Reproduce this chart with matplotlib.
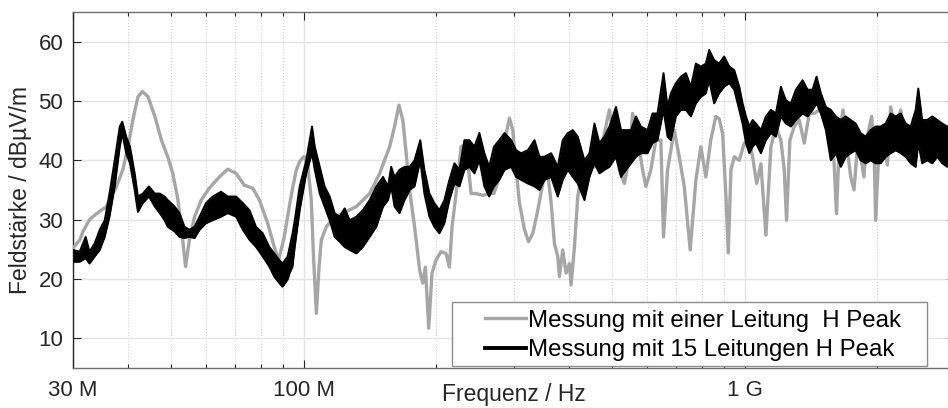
import matplotlib
matplotlib.use("Agg")
import matplotlib.pyplot as plt
from matplotlib.ticker import FixedLocator, NullFormatter
from matplotlib.legend_handler import HandlerLine2D
from matplotlib.lines import Line2D
from matplotlib.patches import Rectangle

plt.rcParams['font.family'] = ['Liberation Sans', 'DejaVu Sans']

# ---- data (frequency in MHz, field strength in dBµV/m) ----
gray_f = [30.0, 31.1, 31.6, 32.7, 33.9, 35.7, 37.6, 38.9, 40.0, 41.0, 42.1, 43.1, 44.4, 46.0,
          47.6, 49.2, 50.5, 51.9, 52.8, 54.0, 55.1, 56.6, 58.6, 61.1, 64.4, 67.3, 70.3, 73.4,
          76.7, 79.4, 82.9, 85.8, 87.8, 90.4, 92.8, 94.4, 96.3, 98.0, 100.0, 100.6, 102.3,
          104.1, 105.4, 106.9, 108.4, 109.7, 112.6, 116.6, 122.8, 131.7, 141.2, 148.8, 156.7,
          160.8, 164.5, 167.9, 170.9, 173.9, 178.5, 183.3, 186.3, 188.9, 192.2, 195.5, 199.7,
          204.9, 210.4, 214.1, 217.1, 221.7, 227.6, 231.6, 235.6, 239.8, 246.1, 254.9, 263.5,
          270.2, 280.0, 287.0, 293.0, 298.2, 303.4, 308.7, 316.9, 323.6, 331.0, 339.7, 348.7,
          357.9, 364.2, 370.5, 377.0, 380.3, 386.9, 393.8, 400.7, 404.2, 411.3, 418.5, 429.5,
          444.9, 456.7, 468.6, 481.0, 493.7, 506.6, 520.0, 533.8, 548.0, 557.3, 571.9, 587.0,
          597.3, 613.0, 629.1, 645.9, 654.9, 668.8, 692.6, 710.9, 729.8, 752.8, 775.5, 795.9,
          816.9, 838.2, 860.4, 876.0, 891.6, 907.3, 918.4, 931.2, 947.5, 972.6, 998.4, 1025.0,
          1042.8, 1064.9, 1089.1, 1117.7, 1147.2, 1177.5, 1208.7, 1229.9, 1245.0, 1266.8,
          1296.0, 1330.1, 1365.6, 1401.6, 1438.3, 1476.4, 1528.4, 1568.6, 1596.0, 1615.9,
          1644.2, 1672.2, 1710.5, 1740.6, 1770.6, 1801.7, 1833.3, 1864.4, 1897.8, 1941.1,
          1965.3, 1982.5, 2017.4, 2070.7, 2107.1, 2144.3, 2201.4, 2259.3, 2319.0, 2380.3,
          2464.3, 2572.8, 2710.7, 2881.9, 2990.0]
gray_db = [25.2, 26.6, 28.0, 30.0, 31.0, 32.2, 35.5, 38.4, 42.3, 46.8, 50.7, 51.6, 50.7, 47.4,
           43.4, 40.6, 37.8, 33.3, 28.8, 22.1, 26.6, 30.5, 33.3, 35.3, 37.2, 38.5, 37.8, 35.8,
           35.3, 33.3, 29.4, 25.4, 23.2, 27.1, 32.2, 35.3, 38.4, 39.8, 40.6, 40.6, 38.9,
           33.3, 23.2, 14.2, 22.0, 26.6, 28.8, 30.2, 31.1, 32.2, 34.4, 37.8, 42.3,
           45.7, 49.3, 46.8, 41.1, 35.0, 28.8, 21.5, 19.3, 22.0, 11.7, 21.0, 23.2,
           24.6, 24.3, 22.0, 28.8, 34.4, 42.3, 42.6, 40.0, 34.4, 34.4, 34.1, 34.4,
           34.4, 38.0, 44.0, 47.1, 45.1, 38.4, 32.8, 28.3, 26.3, 27.7, 31.6, 36.1,
           37.8, 32.8, 26.0, 23.8, 20.4, 24.9, 21.0, 22.6, 19.0, 25.4, 33.9, 38.9,
           39.5, 38.9, 40.0, 44.6, 48.5, 43.4, 38.4, 36.1, 40.6, 47.9, 44.0, 38.4,
           35.6, 38.4, 43.4, 43.4, 27.1, 38.4, 45.1, 40.6, 35.6, 24.9, 36.7, 42.3,
           37.2, 43.4, 47.4, 47.0, 44.5, 33.9, 24.4, 38.4, 40.6, 40.0, 42.9, 43.4,
           40.6, 36.1, 39.4, 27.4, 42.3, 45.7, 43.4, 38.4, 29.9, 43.4,
           45.7, 46.8, 42.9, 47.9, 47.9, 48.5, 47.4, 46.8, 39.4, 31.0,
           45.1, 48.5, 41.7, 37.2, 35.0, 42.3, 40.6, 37.2, 44.0, 47.4,
           42.3, 29.9, 42.3, 43.4, 39.2, 49.0, 45.1, 48.5, 43.4, 41.7,
           44.0, 43.4, 42.3, 40.6, 41.5]

black_f = [30.0, 31.06, 32.05, 32.7, 33.6, 34.5, 35.4, 36.3, 37.3, 38.3, 38.8, 39.6, 40.4, 41.4,
           42.1, 43.2, 44.6, 46.0, 47.2, 48.4, 49.2, 51.0, 52.3, 53.7, 55.1, 56.6, 58.1, 60.1,
           62.2, 65.0, 67.3, 70.3, 72.8, 75.4, 78.0, 80.8, 83.6, 85.8, 88.1, 89.6, 92.0, 93.0,
           94.4, 95.5, 98.0, 101.4, 104.5, 106.0, 108.8, 111.6, 114.6, 117.6, 120.7, 123.9,
           127.2, 131.7, 136.3, 141.2, 146.2, 151.4, 155.4, 158.0, 160.8, 165.0, 169.4, 173.9,
           178.5, 183.9, 187.9, 192.9, 197.9, 203.2, 208.6, 214.1, 219.8, 225.6, 231.6, 237.7,
           244.0, 250.4, 257.0, 263.5, 270.2, 277.8, 285.5, 295.6, 303.4, 311.4, 322.4, 333.9,
           342.7, 351.7, 364.2, 377.0, 386.9, 397.3, 407.8, 418.5, 433.4, 444.9, 456.7, 468.6,
           481.0, 493.7, 511.0, 524.6, 538.4, 552.5, 567.1, 581.9, 602.4, 618.3, 634.7, 654.9,
           668.8, 680.5, 698.6, 717.2, 736.1, 755.5, 775.5, 795.9, 816.9, 831.2, 853.0, 875.5,
           898.7, 923.2, 947.5, 972.6, 989.7, 1007.2, 1025.0, 1042.8, 1061.1, 1089.1, 1117.7,
           1147.2, 1177.5, 1208.7, 1240.7, 1273.4, 1307.2, 1353.6, 1389.5, 1426.2, 1456.1,
           1489.2, 1528.4, 1568.6, 1610.3, 1652.4, 1695.8, 1740.6, 1786.1, 1833.3, 1881.6,
           1931.0, 1982.5, 2035.0, 2088.7, 2144.3, 2201.4, 2259.3, 2319.0, 2380.3, 2443.0,
           2476.9, 2527.5, 2595.6, 2664.6, 2734.5, 2807.4, 2881.9, 2990.0]
black_hi = [24.9, 24.6, 27.1, 24.6, 26.0, 28.3, 29.9, 34.4, 40.0, 45.7, 46.5, 44.0, 42.3, 37.8,
            33.9, 34.4, 35.6, 34.4, 34.4, 33.9, 33.3, 32.2, 31.1, 28.8, 28.3, 28.8, 30.5, 32.8,
            33.9, 34.7, 33.9, 33.9, 32.8, 31.6, 28.8, 27.7, 25.4, 24.3, 23.2, 22.6, 23.8, 25.4,
            27.7, 29.9, 35.6, 40.0, 45.7, 42.3, 38.9, 35.6, 33.9, 31.1, 30.5, 31.9,
            29.9, 30.5, 31.6, 33.3, 35.6, 37.2, 35.6, 38.9, 37.2, 38.4, 38.9, 38.9,
            40.0, 43.4, 38.4, 34.4, 32.8, 31.6, 33.3, 36.7, 39.5, 38.4, 43.4, 43.4,
            42.3, 44.6, 41.2, 38.9, 42.3, 43.4, 44.6, 43.4, 41.7, 41.2, 41.7, 43.4,
            40.6, 40.6, 41.2, 38.9, 43.4, 44.6, 45.1, 44.0, 40.0, 41.2, 46.2, 42.9,
            44.0, 45.7, 49.0, 45.1, 45.1, 45.1, 47.4, 45.7, 45.1, 47.9, 47.9, 54.7,
            49.0, 51.3, 53.0, 54.1, 54.7, 52.4, 56.3, 55.8, 56.3, 58.6, 56.9, 56.3,
            57.5, 55.8, 55.2, 52.4, 49.6, 47.4, 45.7, 46.8, 46.2, 45.1, 47.4,
            48.5, 47.9, 52.4, 50.1, 49.6, 51.9, 53.5, 51.9, 51.9, 54.1,
            51.3, 49.0, 48.5, 47.4, 46.8, 47.4, 46.8, 46.2, 44.6, 44.0,
            45.1, 45.7, 45.7, 46.2, 47.9, 47.4, 47.9, 46.2, 45.7, 48.5,
            52.1, 46.8, 46.8, 47.4, 46.8, 46.2, 45.7, 46.0]
black_lo = [22.9, 22.9, 23.5, 22.6, 23.8, 24.9, 27.1, 30.5, 35.6, 42.3, 44.6, 41.2, 39.5, 35.0,
            31.3, 32.8, 33.9, 32.2, 31.1, 29.9, 28.8, 28.0, 27.1, 26.9, 27.1, 26.9, 28.3, 29.4,
            29.9, 30.5, 31.1, 30.5, 28.3, 26.6, 25.4, 23.8, 22.1, 20.4, 19.3, 18.7, 19.9, 21.0,
            22.1, 25.4, 31.6, 37.8, 41.2, 38.4, 34.4, 32.2, 29.9, 27.1, 26.3, 25.4,
            24.9, 24.3, 25.4, 27.1, 28.8, 32.2, 33.3, 35.6, 32.2, 31.1, 33.3, 35.0,
            35.6, 40.0, 34.4, 30.5, 28.8, 27.7, 29.4, 33.3, 36.1, 35.6, 38.4, 38.9,
            37.8, 40.0, 35.6, 33.9, 35.6, 36.7, 38.4, 38.9, 37.2, 36.7, 36.1, 35.6,
            35.0, 36.7, 37.2, 33.9, 36.7, 38.4, 37.2, 36.1, 33.3, 37.2, 39.5, 37.8,
            38.4, 38.9, 40.6, 37.2, 38.4, 39.5, 40.6, 41.2, 41.2, 42.9, 43.4, 48.5,
            44.0, 43.4, 47.4, 48.5, 48.5, 47.4, 49.6, 50.7, 51.3, 53.5, 49.6, 51.3,
            52.4, 53.0, 51.9, 48.5, 46.2, 42.9, 41.2, 42.3, 42.9, 41.2, 43.4,
            44.6, 44.0, 47.4, 46.2, 45.7, 46.8, 47.9, 47.4, 48.5, 49.6,
            47.9, 45.1, 40.0, 41.2, 38.9, 40.6, 41.2, 41.7, 40.0, 39.5,
            40.0, 39.5, 39.5, 40.6, 41.2, 41.7, 41.2, 40.6, 39.5, 38.9,
            42.9, 39.5, 40.0, 39.5, 40.6, 39.5, 38.9, 39.5]

x_ticks = [30, 100, 1000]
x_ticklabels = ['30 M', '100 M', '1 G']
x_minor = [40, 50, 60, 70, 80, 90, 200, 300, 400, 500, 600, 700, 800, 900, 2000, 3000]
y_ticks = [10, 20, 30, 40, 50, 60]
label_gray = 'Messung mit einer Leitung  H Peak'
label_black = 'Messung mit 15 Leitungen H Peak'


class OffsetLineHandler(HandlerLine2D):
    """Legend line drawn only in the right part of the handle box (MATLAB look)."""
    def create_artists(self, legend, orig_handle, xdescent, ydescent, width, height,
                       fontsize, trans):
        artists = super().create_artists(legend, orig_handle, xdescent, ydescent, width,
                                         height, fontsize, trans)
        for a in artists:
            xd = list(a.get_xdata())
            if len(xd) >= 2:
                x0, x1 = min(xd), max(xd)
                a.set_xdata([x0 + 0.40 * (x1 - x0), x1])
                a.set_ydata([a.get_ydata()[0]] * 2)
        return artists


# ---- figure ----
fig = plt.figure(figsize=(9.48, 4.08), dpi=100)
W, H = 948, 408
ax_l, ax_r, ax_t, ax_b = 73, 955, 12, 368
ax = fig.add_axes([ax_l / W, (H - ax_b) / H, (ax_r - ax_l) / W, (ax_b - ax_t) / H])

ax.set_xscale('log')
ax.set_xlim(30, 3000)
ax.set_ylim(5, 65)

gray_col = '#a6a6a6'
ax.plot(gray_f, gray_db, color=gray_col, lw=2.4, label=label_gray, zorder=3)
ax.fill_between(black_f, black_lo, black_hi, color='black', lw=0, zorder=4)
ax.plot(black_f, black_hi, color='black', lw=1.4, zorder=4)
ax.plot(black_f, black_lo, color='black', lw=1.4, zorder=4)
ax.plot([], [], color='black', lw=2.8, label=label_black)

ax.xaxis.set_major_locator(FixedLocator(x_ticks))
ax.set_xticklabels(x_ticklabels)
ax.xaxis.set_minor_locator(FixedLocator(x_minor))
ax.xaxis.set_minor_formatter(NullFormatter())
ax.set_yticks(y_ticks)

ax.grid(True, which='major', axis='both', color='#e3e3e3', lw=1.0, ls='-', zorder=0)
ax.grid(True, which='minor', axis='x', color='#d0d0d0', lw=0.8, ls=':', zorder=0)
ax.set_axisbelow(True)

tick_col = '#262626'
ax.tick_params(which='major', direction='in', length=6, width=0.8, color=tick_col,
               labelsize=16, labelcolor=tick_col, top=True, right=True)
ax.tick_params(axis='y', which='major', pad=7)
ax.tick_params(axis='x', which='major', pad=9)
ax.tick_params(which='minor', direction='in', length=3, width=0.8, color=tick_col,
               top=True, right=False)
for s in ax.spines.values():
    s.set_color('#6e6e6e')
    s.set_linewidth(1.0)
ax.spines['left'].set_color('#262626')

ax.set_xlabel('Frequenz / Hz', fontsize=16.5, color=tick_col, va='top')
ax.xaxis.set_label_coords(0.5, -0.042)
ax.set_ylabel('Feldstärke / dBµV/m', fontsize=16.5, color=tick_col)
ax.yaxis.set_label_coords(-0.046, 0.5)

# legend box (drawn as a patch so its padding matches the MATLAB-style box)
aw, ah = ax_r - ax_l, ax_b - ax_t
box_l, box_r, box_t, box_b = 452, 927, 302, 366
ax.add_patch(Rectangle(((box_l - ax_l) / aw, (ax_b - box_b) / ah),
                       (box_r - box_l) / aw, (box_b - box_t) / ah,
                       transform=ax.transAxes, facecolor='white', edgecolor='#8c8c8c',
                       lw=1.0, zorder=6))
leg = ax.legend(loc='lower left',
                bbox_to_anchor=((box_l - ax_l) / aw, (ax_b - box_b) / ah),
                borderaxespad=0, fontsize=17.3, frameon=False,
                handlelength=2.9, handletextpad=0.08, labelspacing=0.32, borderpad=0.2,
                handler_map={Line2D: OffsetLineHandler()})
leg.set_zorder(7)
for t in leg.get_texts():
    t.set_color('black')

fig.savefig('out.png', dpi=100)
